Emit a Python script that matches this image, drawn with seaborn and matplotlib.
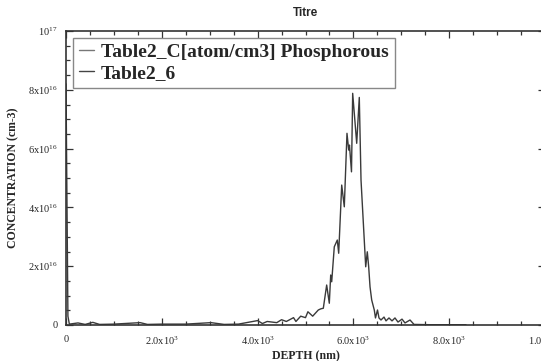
import numpy as np
import pandas as pd
import matplotlib
matplotlib.use("Agg")
import matplotlib.pyplot as plt
import seaborn as sns
from matplotlib.lines import Line2D
from matplotlib.ticker import MultipleLocator

# ---- data (depth in nm, concentration in units of 1e16 cm-3) ----
depth = [0, 40, 70, 250, 400, 560, 700, 1000, 1550, 1700, 2000, 2500, 3030, 3300,
         3600, 4000, 4100, 4200, 4400, 4500, 4600, 4750, 4800, 4900, 5000, 5050,
         5150, 5267, 5320, 5372, 5442, 5497, 5526, 5547, 5601, 5664, 5693, 5756,
         5810, 5866, 5902, 5918, 5960, 5985, 6069, 6123, 6159, 6257, 6290, 6319,
         6347, 6382, 6436, 6461, 6503, 6534, 6576, 6639, 6681, 6743, 6806, 6868,
         6931, 7015, 7077, 7182, 7265, 7600, 8000, 8350]
conc = [8.2, 0.3, 0.03, 0.07, 0.02, 0.09, 0.02, 0.03, 0.08, 0.02, 0.03, 0.03, 0.08, 0.02,
        0.03, 0.15, 0.05, 0.12, 0.08, 0.18, 0.12, 0.25, 0.12, 0.3, 0.25, 0.45,
        0.3, 0.51, 0.55, 0.57, 1.36, 0.74, 1.70, 1.47, 2.66, 2.89, 2.44, 4.76,
        4.02, 6.52, 5.95, 6.12, 5.21, 7.88, 6.18, 7.74, 4.93, 1.98, 2.49, 1.98,
        1.30, 0.85, 0.51, 0.24, 0.51, 0.24, 0.17, 0.27, 0.14, 0.24, 0.14, 0.24,
        0.10, 0.20, 0.07, 0.17, 0.02, 0.01, 0.01, 0.01]
series_labels = ["Table2_C[atom/cm3] Phosphorous", "Table2_6"]
yticks = [0, 2e16, 4e16, 6e16, 8e16, 1e17]
ytick_labels = ["0", "2x10$^{16}$", "4x10$^{16}$", "6x10$^{16}$", "8x10$^{16}$", "10$^{17}$"]
xticks = [0, 2000, 4000, 6000, 8000, 10000]
xtick_labels = ["0", "2.0x10$^{3}$", "4.0x10$^{3}$", "6.0x10$^{3}$", "8.0x10$^{3}$", "1.0x10$^{4}$"]

df = pd.DataFrame({"depth": depth, "conc": np.array(conc) * 1e16})

sns.set_style("ticks")
plt.rcParams["font.family"] = ["Liberation Serif", "DejaVu Serif"]
plt.rcParams["mathtext.default"] = "regular"

W, H = 541, 361
fig = plt.figure(figsize=(W / 100, H / 100), dpi=100)
left, right, top, bottom = 66, 545, 31, 325
ax = fig.add_axes([left / W, 1 - bottom / H, (right - left) / W, (bottom - top) / H])

line_color = "#3a3a3a"
sns.lineplot(data=df, x="depth", y="conc", ax=ax, color=line_color, linewidth=1.0,
             estimator=None, sort=False, legend=False)

ax.set_xlim(0, 10000)
ax.set_ylim(0, 1e17)
ax.set_xticks(xticks)
ax.set_xticklabels(xtick_labels, fontsize=7.5)
ax.set_yticks(yticks)
ax.set_yticklabels(ytick_labels, fontsize=7.5)
ax.xaxis.set_minor_locator(MultipleLocator(500))
ax.yaxis.set_minor_locator(MultipleLocator(5e15))
ax.tick_params(which="both", direction="in", top=True, right=True, color="#333333", width=0.9)
ax.tick_params(which="major", length=5)
ax.tick_params(which="minor", length=3)
ax.tick_params(axis="x", which="major", pad=7)
ax.tick_params(axis="y", which="major", pad=6)
for s in ax.spines.values():
    s.set_linewidth(1.2)
    s.set_color("#333333")

ax.set_xlabel("DEPTH (nm)", fontsize=8.5, fontweight="bold", labelpad=2)
ax.set_ylabel("CONCENTRATION (cm-3)", fontsize=8.5, fontweight="bold", labelpad=6)
ax.set_title("Titre", fontsize=8.5, fontweight="bold", family=["Liberation Sans", "DejaVu Sans"], pad=11)

handles = [Line2D([], [], color="#777777", linewidth=1.0),
           Line2D([], [], color="#444444", linewidth=1.0)]
leg = ax.legend(handles, series_labels, loc="upper left",
                prop={"weight": "bold", "size": 14},
                frameon=True, fancybox=False, framealpha=1, edgecolor="#888888",
                borderaxespad=0.35, handlelength=0.8, handletextpad=0.35,
                labelspacing=0.15, borderpad=0.3)
leg.get_frame().set_linewidth(1.0)

fig.savefig("out.png", dpi=100)
